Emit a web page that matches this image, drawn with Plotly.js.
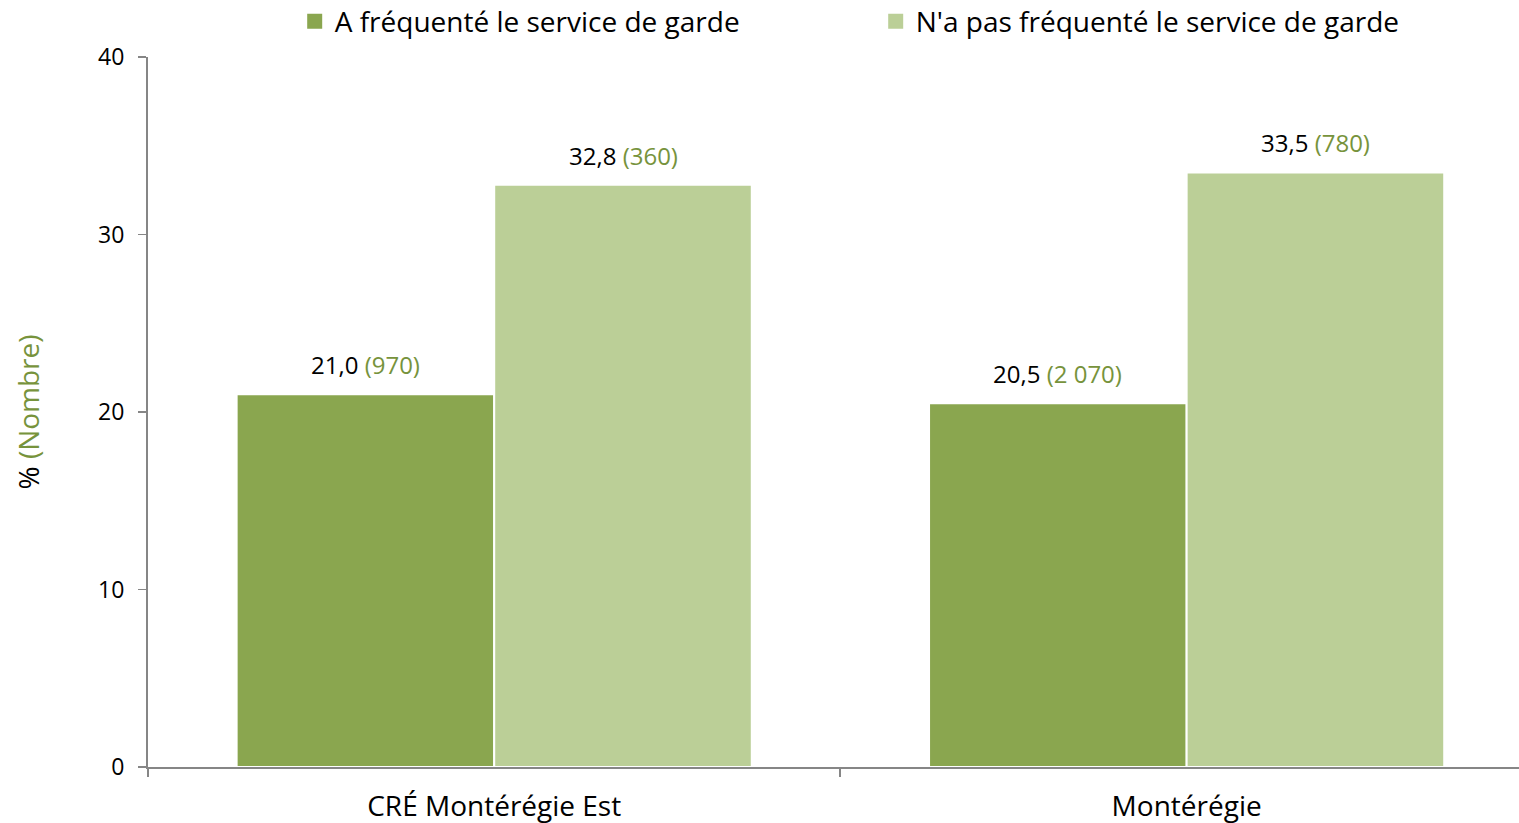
<!DOCTYPE html>
<html><head><meta charset="utf-8">
<script src="https://cdn.plot.ly/plotly-3.0.1.min.js"></script>
<style>html,body{margin:0;padding:0;background:#fff}#chart{width:1519px;height:823px}</style>
</head><body><div id="chart"></div>
<script>
const categories = ["CRÉ Montérégie Est", "Montérégie"];
const seriesNames = ["A fréquenté le service de garde", "N'a pas fréquenté le service de garde"];
const pctAttended = [21.0, 20.5];
const pctNotAttended = [32.8, 33.5];
const nbAttended = ["970", "2 070"];
const nbNotAttended = ["360", "780"];
const colors = ["#8AA64F", "#BBCF97"];
const green = "#77933C";
const font = "Open Sans, Liberation Sans, sans-serif";

const series = [
  {name: seriesNames[0], y: pctAttended, n: nbAttended, color: colors[0]},
  {name: seriesNames[1], y: pctNotAttended, n: nbNotAttended, color: colors[1]}
];

const traces = series.map(s => ({
  type: 'bar', name: s.name, x: categories, y: s.y, showlegend: false,
  marker: {color: s.color, line: {color: '#ffffff', width: 2}},
  hoverinfo: 'skip'
}));
// legend entries with larger square symbols
series.forEach(s => traces.push({
  type: 'scatter', mode: 'markers', name: s.name, x: [null], y: [null],
  marker: {symbol: 'square', size: 15, color: s.color}, showlegend: true, hoverinfo: 'skip'
}));

const bargap = 0.256;
const barW = (1 - bargap) / series.length;
const annotations = [];
series.forEach((s, si) => {
  categories.forEach((c, ci) => {
    annotations.push({
      xref: 'x', yref: 'y', x: ci + (si - (series.length - 1) / 2) * barW, y: s.y[ci],
      yanchor: 'bottom', xanchor: 'center', yshift: 11, showarrow: false,
      text: '<span style="color:#000000">' + s.y[ci].toFixed(1).replace('.', ',') + '</span> <span style="color:' + green + '">(' + s.n[ci] + ')</span>',
      font: {family: font, size: 24, color: '#000'}
    });
  });
});

const layout = {
  width: 1519, height: 823,
  margin: {l: 148, r: 0, t: 57, b: 56, autoexpand: false},
  paper_bgcolor: '#fff', plot_bgcolor: '#fff',
  barmode: 'group', bargap: bargap, bargroupgap: 0,
  font: {family: font, size: 22, color: '#000'},
  showlegend: true,
  legend: {orientation: 'h', x: 0.107, xanchor: 'left', y: 1.05, yanchor: 'middle',
    font: {family: font, size: 28, color: '#000'}, traceorder: 'normal',
    entrywidth: 536, entrywidthmode: 'pixels', bgcolor: 'rgba(0,0,0,0)'},
  xaxis: {type: 'category', range: [-0.5, 1.48], showline: true, linecolor: '#868686', linewidth: 2,
    ticks: 'outside', tickson: 'boundaries', ticklen: 8, tickcolor: '#868686', tickwidth: 2,
    ticklabelstandoff: 13,
    showgrid: false, zeroline: false, tickfont: {family: font, size: 28, color: '#000'}},
  yaxis: {range: [0, 40], dtick: 10, showline: true, linecolor: '#868686', linewidth: 2,
    ticks: 'outside', ticklen: 8, tickcolor: '#868686', tickwidth: 1.5, showgrid: false, zeroline: false,
    ticklabelstandoff: 9,
    tickfont: {family: font, size: 23, color: '#000'},
    title: {text: '<span style="color:#000000">%</span> <span style="color:' + green + '">(Nombre)</span>', font: {family: font, size: 28, color: '#000'}, standoff: 50}},
  annotations: annotations
};

Plotly.newPlot('chart', traces, layout, {displayModeBar: false, staticPlot: true});
</script></body></html>
